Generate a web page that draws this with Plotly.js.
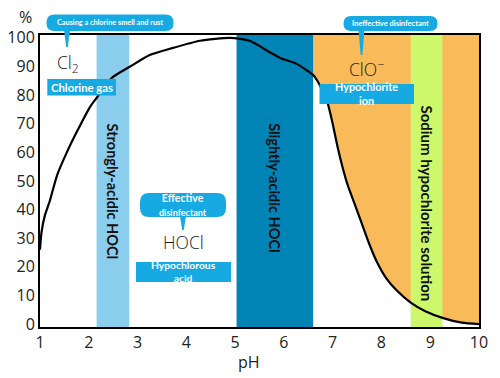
<!DOCTYPE html>
<html>
<head>
<meta charset="utf-8">
<script src="https://cdn.plot.ly/plotly-3.0.1.min.js"></script>
<style>html,body{margin:0;padding:0;background:#fff;}#chart{width:500px;height:378px;}</style>
</head>
<body>
<div id="chart"></div>
<script>
// ---- data ----
const pH   = [1.0, 1.03, 1.1, 1.2, 1.35, 1.55, 1.75, 2.03, 2.16, 2.47, 2.85, 3.25, 3.73, 4.28, 4.9, 5.3, 5.71, 5.92, 6.25, 6.6, 6.75, 6.9, 7.0, 7.1, 7.2, 7.3, 7.45, 7.6, 7.75, 7.9, 8.1, 8.3, 8.6, 8.9, 9.25, 9.65, 10.0];
const hocl = [26, 32, 38, 43, 52, 60, 67, 76, 79, 86, 90, 94, 96.5, 99, 100, 99, 95, 93, 91, 87, 83, 77, 70, 62, 55, 49, 42, 35, 28, 22, 16, 12, 7.5, 4.5, 2.2, 0.5, 0];
const xTicks = [1, 2, 3, 4, 5, 6, 7, 8, 9, 10];
const yTicks = [0, 10, 20, 30, 40, 50, 60, 70, 80, 90, 100];
const bandNames = ['Strongly-acidic HOCl', 'Slightly-acidic HOCl', 'Sodium hypochlorite solution'];
const bandStart = [2.16, 5.03, 8.6];
const bandEnd   = [2.83, 6.6, 9.25];
const ionStart = 6.6;   // ClO- (orange) region from here to the right edge
const ionEnd = 10;

// ---- styling ----
const bandColors = ['#8acdec', '#0083b5', '#cdf86c'];
const orange = '#f9bb5a';
const callout = '#16a9e2';
const X_RANGE = [1, 10], Y_RANGE = [-1, 101];
const L = 40, R = 21, T = 35, B = 51, W = 500, H = 378;
const PW = W - L - R, PH = H - T - B;
const X = px => (px - L) / PW;        // pixel -> paper
const Y = py => (H - B - py) / PH;

// orange area above the curve between ionStart and ionEnd
let oPath = `M ${ionStart},${Y_RANGE[1]}`;
pH.forEach((v, i) => { if (v >= ionStart && v <= ionEnd) oPath += ` L ${v},${hocl[i]}`; });
oPath += ` L ${ionEnd},${Y_RANGE[1]} Z`;

const shapes = [{type: 'path', xref: 'x', yref: 'y', path: oPath, fillcolor: orange, line: {width: 0}, layer: 'below'}];
bandStart.forEach((s, i) => shapes.push({type: 'rect', xref: 'x', yref: 'y', x0: s, x1: bandEnd[i], y0: Y_RANGE[0], y1: Y_RANGE[1],
  fillcolor: bandColors[i], line: {width: 0}, layer: 'below'}));

function pill(x0, y0, x1, y1, r, tipX, tipY) {
  const p = `M ${X(x0 + r)},${Y(y0)} L ${X(x1 - r)},${Y(y0)} Q ${X(x1)},${Y(y0)} ${X(x1)},${Y(y0 + r)} ` +
    `L ${X(x1)},${Y(y1 - r)} Q ${X(x1)},${Y(y1)} ${X(x1 - r)},${Y(y1)} L ${X(x0 + r)},${Y(y1)} ` +
    `Q ${X(x0)},${Y(y1)} ${X(x0)},${Y(y1 - r)} L ${X(x0)},${Y(y0 + r)} Q ${X(x0)},${Y(y0)} ${X(x0 + r)},${Y(y0)} Z`;
  shapes.push({type: 'path', xref: 'paper', yref: 'paper', path: p, fillcolor: callout, line: {width: 0}, layer: 'above'});
  const ptr = `M ${X(tipX - 3)},${Y(y1 - 1)} L ${X(tipX + 3)},${Y(y1 - 1)} L ${X(tipX + 0.8)},${Y(tipY)} L ${X(tipX - 0.8)},${Y(tipY)} Z`;
  shapes.push({type: 'path', xref: 'paper', yref: 'paper', path: ptr, fillcolor: callout, line: {width: 0}, layer: 'above'});
}
function box(x0, y0, x1, y1) {
  shapes.push({type: 'rect', xref: 'paper', yref: 'paper', x0: X(x0), x1: X(x1), y0: Y(y1), y1: Y(y0),
    fillcolor: callout, line: {width: 0}, layer: 'above'});
}
pill(46.5, 14.5, 173.5, 31, 8, 67, 47);
pill(140, 193, 226, 217, 9, 183, 230);
pill(343.5, 16, 437.5, 31, 7.5, 361.5, 55);
box(47.3, 79, 116, 95.5);
box(136, 262, 231, 282);
box(319.5, 84, 414, 104);

const annotations = [];
function txt(text, px, py, size, opts = {}) {
  annotations.push(Object.assign({text, xref: 'paper', yref: 'paper', x: X(px), y: Y(py), showarrow: false,
    xanchor: 'center', yanchor: 'middle', borderpad: 0,
    font: {family: opts.family || 'Lato', size, color: opts.color || '#fff', weight: opts.weight || 700}}, opts.extra || {}));
}
const light = {family: 'Open Sans', color: '#1a1a1a', weight: 300};
txt('Causing a chlorine smell and rust', 110, 22.5, 7.3);
txt('Chlorine gas', 81.7, 87.5, 11.3);
txt('Cl<sub>2</sub>', 68, 63, 17.5, light);
txt('Effective<br><span style="font-size:9px">disinfectant</span>', 183, 205, 10.6);
txt('HOCl', 183, 242, 17.5, light);
txt('Hypochlorous<br>acid', 183.5, 271, 10.3);
txt('Ineffective disinfectant', 390.5, 23.5, 7.5);
txt('ClO<sup>−</sup>', 366, 68, 17.5, light);
txt('Hypochlorite<br>ion', 366.8, 93, 10.8);
txt('%', 25, 17.5, 16, {family: 'Open Sans', color: '#222', weight: 400});
txt('pH', 249, 362, 16, {family: 'Open Sans', color: '#222', weight: 400});
// rotated band labels
const bandLabelY = [191.5, 188, 203];
bandNames.forEach((n, i) => annotations.push({text: n, xref: 'x', yref: 'paper', x: (bandStart[i] + bandEnd[i]) / 2,
  y: Y(bandLabelY[i]), showarrow: false, textangle: 90, xanchor: 'center', yanchor: 'middle',
  font: {family: 'Lato', size: i === 2 ? 15 : 14.5, color: '#111', weight: 700}}));

const traces = [{
  x: pH, y: hocl, type: 'scatter', mode: 'lines', name: 'HOCl',
  line: {color: '#000', width: 2.2, shape: 'spline', smoothing: 0.6}, hoverinfo: 'x+y', showlegend: false
}];

const axisBase = {showgrid: false, zeroline: false, showline: true, mirror: true, linecolor: '#000', linewidth: 2,
  ticks: '', tickmode: 'array', fixedrange: true, tickfont: {family: 'Open Sans', size: 16, color: '#222'}};

const layout = {
  width: W, height: H, margin: {l: L, r: R, t: T, b: B, pad: 0},
  paper_bgcolor: '#fff', plot_bgcolor: '#fff', showlegend: false,
  xaxis: Object.assign({}, axisBase, {range: X_RANGE, tickvals: xTicks, ticktext: xTicks.map(String)}),
  yaxis: Object.assign({}, axisBase, {range: Y_RANGE, tickvals: yTicks, ticktext: yTicks.map(String)}),
  shapes, annotations
};
Plotly.newPlot('chart', traces, layout, {staticPlot: true, displayModeBar: false});
</script>
</body>
</html>
